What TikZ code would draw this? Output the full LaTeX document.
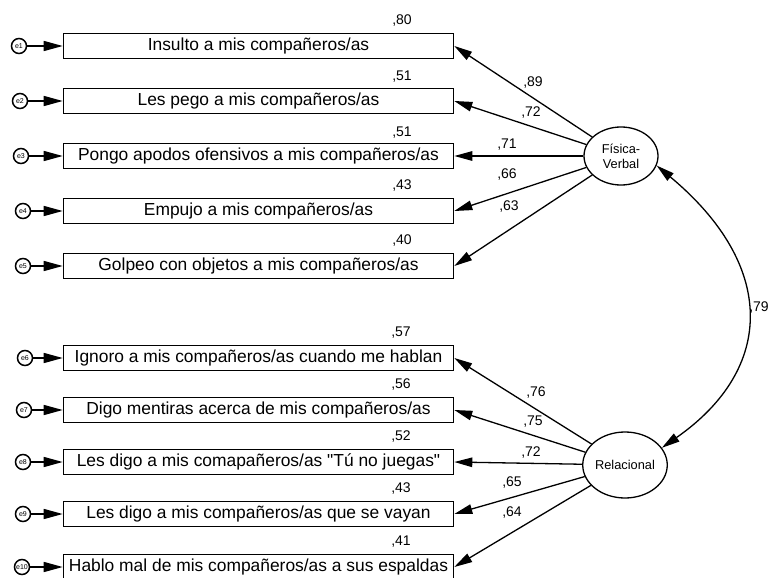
\documentclass[tikz,border=0pt]{standalone}
\usepackage{fontspec}
\setmainfont{Liberation Sans}[Ligatures=TeXOff]
\usetikzlibrary{arrows.meta,shapes.geometric}
\begin{document}
\begin{tikzpicture}[x=1pt,y=-1pt,
  box/.style={draw,line width=1.6pt,minimum width=390pt,minimum height=25pt,inner sep=0pt,font=\fontsize{17.4}{20}\selectfont},
  err/.style={circle,draw,line width=1.5pt,minimum size=15pt,inner sep=0pt,font=\fontsize{7}{7}\selectfont},
  lat/.style={ellipse,draw,line width=1.3pt,inner sep=0pt,align=center,font=\fontsize{12.8}{15}\selectfont},
  arr/.style={line width=1.3pt,-{Triangle[length=18pt,width=9.5pt]}},
  earr/.style={line width=1.5pt,-{Triangle[length=19pt,width=10pt]}},
  corr/.style={line width=1.3pt,{Triangle[length=18pt,width=9.5pt]}-{Triangle[length=18pt,width=9.5pt]}},
  lab/.style={font=\fontsize{14}{16}\selectfont,inner sep=0pt}]
\useasboundingbox[fill=white] (0,0) rectangle (769,578);

% latent variables
\node[lat,minimum width=74pt,minimum height=58pt] (fv) at (621,156) {Física-\\Verbal};
\node[lat,minimum width=68pt,minimum height=66pt] (rel) at (625,465) {Relacional};

% observed boxes
\node[box] (b1) at (258.5,46) {Insulto a mis compañeros/as};
\node[box] (b2) at (258.5,101) {Les pego a mis compañeros/as};
\node[box] (b3) at (258.5,156) {Pongo apodos ofensivos a mis compañeros/as};
\node[box] (b4) at (258.5,211) {Empujo a mis compañeros/as};
\node[box] (b5) at (258.5,266) {Golpeo con objetos a mis compañeros/as};
\node[box] (b6) at (258.5,358) {Ignoro a mis compañeros/as cuando me hablan};
\node[box] (b7) at (258.5,410) {Digo mentiras acerca de mis compañeros/as};
\node[box] (b8) at (258.5,462) {Les digo a mis comapañeros/as "Tú no juegas"};
\node[box] (b9) at (258.5,514) {Les digo a mis compañeros/as que se vayan};
\node[box] (b10) at (258.5,567) {Hablo mal de mis compañeros/as a sus espaldas};

% error terms
\node[err] (e1) at (19,46) {e1};
\node[err] (e2) at (20,101) {e2};
\node[err] (e3) at (21,156) {e3};
\node[err] (e4) at (23,211) {e4};
\node[err] (e5) at (23,266) {e5};
\node[err] (e6) at (25,358) {e6};
\node[err] (e7) at (24,410) {e7};
\node[err] (e8) at (23,462) {e8};
\node[err] (e9) at (23,514) {e9};
\node[err] (e10) at (22,567) {e10};

\foreach \i in {1,...,10} {\draw[earr] (e\i) -- (b\i.west);}

% loadings
\foreach \i in {1,...,5} {\draw[arr] (fv) -- (b\i.east);}
\foreach \i in {6,...,10} {\draw[arr] (rel) -- (b\i.east);}

% correlation
\draw[corr] (fv.-15) .. controls (776,265) and (776,368) .. (rel.25);
\node[lab] (c79) at (759,308) {,79};

% loading labels
\node[lab] (l1) at (533,83) {,89};
\node[lab] (l2) at (531,113) {,72};
\node[lab] (l3) at (507,145) {,71};
\node[lab] (l4) at (507,175) {,66};
\node[lab] (l5) at (509,207) {,63};
\node[lab] (l6) at (536,393) {,76};
\node[lab] (l7) at (533,422) {,75};
\node[lab] (l8) at (531,453) {,72};
\node[lab] (l9) at (512,483) {,65};
\node[lab] (l10) at (512,513) {,64};

% R2 labels
\node[lab] (r1) at (402,21) {,80};
\node[lab] (r2) at (402,77) {,51};
\node[lab] (r3) at (402,133) {,51};
\node[lab] (r4) at (402,186) {,43};
\node[lab] (r5) at (402,241) {,40};
\node[lab] (r6) at (401,333) {,57};
\node[lab] (r7) at (401,385) {,56};
\node[lab] (r8) at (401,437) {,52};
\node[lab] (r9) at (401,489) {,43};
\node[lab] (r10) at (401,542) {,41};
\end{tikzpicture}
\end{document}
